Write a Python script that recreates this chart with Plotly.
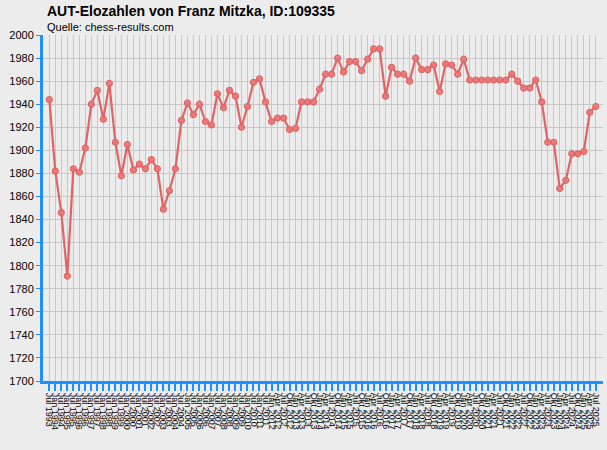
import plotly.graph_objects as go

# rating list dates (x categories) and AUT-Elo values
dates = [
    "Jul 1993", "Jan 1994", "Jul 1994", "Jan 1995", "Jul 1995", "Jan 1996", "Jul 1996",
    "Jan 1997", "Jul 1997", "Jan 1998", "Jul 1998", "Jan 1999", "Jul 1999", "Jan 2000",
    "Jul 2000", "Jan 2001", "Jul 2001", "Jan 2002", "Jul 2002", "Jan 2003", "Jul 2003",
    "Jan 2004", "Jul 2004", "Jan 2005", "Jul 2005", "Jan 2006", "Jul 2006", "Jan 2007",
    "Jul 2007", "Jan 2008", "Jul 2008", "Jan 2009", "Jul 2009", "Jan 2010", "Jul 2010",
    "Jan 2011", "Jul 2011", "Jan 2012",
    "Apr 2012", "Jul 2012", "Okt 2012",
    "Jan 2013", "Apr 2013", "Jul 2013", "Okt 2013",
    "Jan 2014", "Apr 2014", "Jul 2014", "Okt 2014",
    "Jan 2015", "Apr 2015", "Jul 2015", "Okt 2015",
    "Jan 2016", "Apr 2016", "Jul 2016", "Okt 2016",
    "Jan 2017", "Apr 2017", "Jul 2017", "Okt 2017",
    "Jan 2018", "Apr 2018", "Jul 2018", "Okt 2018",
    "Jan 2019", "Apr 2019", "Jul 2019", "Okt 2019",
    "Jan 2020", "Apr 2020", "Jul 2020", "Okt 2020",
    "Jan 2021", "Apr 2021", "Jul 2021", "Okt 2021",
    "Jan 2022", "Apr 2022", "Jul 2022", "Okt 2022",
    "Jan 2023", "Apr 2023", "Jul 2023", "Okt 2023",
    "Jan 2024", "Apr 2024", "Jul 2024", "Okt 2024",
    "Jan 2025", "Apr 2025", "Jul 2025",
]

elo = [
    1944, 1882, 1846, 1791, 1884, 1881, 1902, 1940, 1952, 1927,
    1958, 1907, 1878, 1905, 1883, 1888, 1884, 1892, 1884, 1849,
    1865, 1884, 1926, 1941, 1931, 1940, 1925, 1922, 1949, 1937,
    1952, 1947, 1920, 1938, 1959, 1962, 1942, 1925, 1928, 1928,
    1918, 1919, 1942, 1942, 1942, 1953, 1966, 1966, 1980, 1968,
    1977, 1977, 1969, 1979, 1988, 1988, 1947, 1972, 1966, 1966,
    1960, 1980, 1970, 1970, 1974, 1951, 1975, 1974, 1966, 1979,
    1961, 1961, 1961, 1961, 1961, 1961, 1961, 1966, 1960, 1954,
    1954, 1961, 1942, 1907, 1907, 1867, 1874, 1897, 1897, 1899,
    1933, 1938,
]

title = "AUT-Elozahlen von Franz Mitzka, ID:109335"
source = "Quelle: chess-results.com"

blue = "#1e90ff"
red = "#e06464"
grid = "#c8c8c8"
bg = "#ececec"

W, H = 607, 450
L, R, T, B = 43, 4, 35, 69

fig = go.Figure(go.Scatter(
    x=dates, y=elo, mode="lines+markers",
    line=dict(color=red, width=2.2),
    marker=dict(size=6, color="rgba(232,120,120,0.9)", line=dict(color=red, width=1.2)),
    hoverinfo="x+y",
))

# title / source placed by pixel position, converted to paper coords
def px(x, y):
    return (x - L) / (W - L - R), (H - y - B) / (H - T - B)

tx, ty = px(45, 11)
sx, sy = px(45, 27)

fig.update_layout(
    width=W, height=H,
    margin=dict(l=L, r=R, t=T, b=B),
    paper_bgcolor=bg, plot_bgcolor=bg,
    font=dict(family="Liberation Sans, Arial, sans-serif", color="black"),
    showlegend=False,
    annotations=[
        dict(text="<b>" + title + "</b>", x=tx, y=ty, xref="paper", yref="paper",
             xanchor="left", yanchor="middle", showarrow=False, font=dict(size=14)),
        dict(text=source, x=sx, y=sy, xref="paper", yref="paper",
             xanchor="left", yanchor="middle", showarrow=False, font=dict(size=11)),
    ],
)

fig.update_xaxes(
    type="category", range=[-1.05, 92.2],
    tickmode="linear", tick0=0, dtick=1,
    tickangle=90, tickfont=dict(size=9),
    ticks="outside", ticklen=7, tickwidth=2, tickcolor=blue,
    showline=True, linecolor=blue, linewidth=3,
    showgrid=True, gridcolor=grid, gridwidth=1,
    zeroline=False, fixedrange=True,
)
fig.update_yaxes(
    range=[1700, 2000], tickmode="linear", tick0=1700, dtick=20,
    tickfont=dict(size=11),
    ticks="outside", ticklen=4, tickwidth=1, tickcolor=blue,
    showline=True, linecolor=blue, linewidth=3,
    showgrid=True, gridcolor=grid, gridwidth=1,
    zeroline=False, fixedrange=True,
)

fig.write_html("out.html", config={"displayModeBar": False},
               post_script="document.body.style.margin='0';")
